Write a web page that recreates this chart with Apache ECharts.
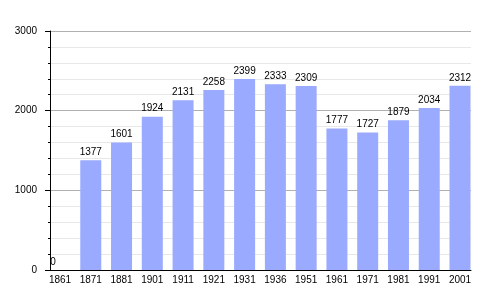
<!DOCTYPE html>
<html><head><meta charset="utf-8">
<script src="https://cdn.jsdelivr.net/npm/echarts@6/dist/echarts.min.js"></script>
<style>html,body{margin:0;padding:0;background:#fff}#c{width:500px;height:300px}</style>
</head><body><div id="c"></div>
<script>
const years = ['1861','1871','1881','1901','1911','1921','1931','1936','1951','1961','1971','1981','1991','2001'];
const population = [0,1377,1601,1924,2131,2258,2399,2333,2309,1777,1727,1879,2034,2312];
const yTicks = [0,1000,2000,3000];

const font = 'Liberation Sans, Arial, sans-serif';
const chart = echarts.init(document.getElementById('c'), null, {renderer:'canvas'});
chart.setOption({
  animation:false,
  backgroundColor:'#fff',
  grid:[
    {left:50,right:29,top:31,bottom:30},
    {left:60,right:40,top:31,bottom:30}
  ],
  xAxis:[
    {gridIndex:0,type:'value',min:0,max:1,z:5,
     axisLine:{show:true,lineStyle:{color:'#000',width:1}},
     axisTick:{show:false},axisLabel:{show:false},splitLine:{show:false}},
    {gridIndex:1,type:'category',data:years,boundaryGap:false,
     axisLine:{show:false},axisTick:{show:false},splitLine:{show:false},
     axisLabel:{fontSize:10,fontFamily:font,color:'#000',margin:5,interval:0}}
  ],
  yAxis:[
    {gridIndex:0,type:'value',min:yTicks[0],max:yTicks[yTicks.length-1],interval:1000,
     axisLine:{show:true,lineStyle:{color:'#000'}},
     axisTick:{show:true,length:5,lineStyle:{color:'#000'}},
     minorTick:{show:true,splitNumber:5,length:2,lineStyle:{color:'#000'}},
     splitLine:{show:true,lineStyle:{color:'#b0b0b0'}},
     minorSplitLine:{show:true,lineStyle:{color:'#e8e8e8'}},
     axisLabel:{fontSize:10,fontFamily:font,color:'#000',margin:13,formatter:v=>String(v)}},
    {gridIndex:1,type:'value',min:0,max:3000,show:false,splitLine:{show:false}}
  ],
  series:[{
    type:'bar',xAxisIndex:1,yAxisIndex:1,barWidth:21,
    itemStyle:{color:'#99aaff'},
    label:{show:true,position:'top',distance:3,fontSize:10,fontFamily:font,color:'#000'},
    data:population.map((v,i)=> i===0 ? {value:v,label:{offset:[-7,0]}} : v)
  }]
});
</script></body></html>
